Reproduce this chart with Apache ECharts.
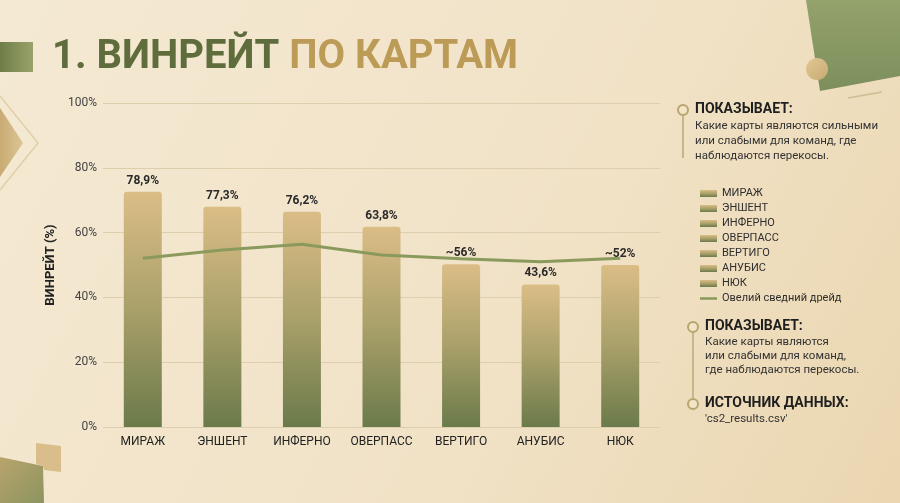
<!DOCTYPE html>
<html>
<head>
<meta charset="utf-8">
<script src="https://cdn.jsdelivr.net/npm/echarts@6/dist/echarts.min.js"></script>
<style>
  html, body { margin: 0; padding: 0; background: #f3e7cf; }
  #chart { width: 900px; height: 503px; }
</style>
</head>
<body>
<div id="chart"></div>
<script>
// карты и значения
let maps = ['МИРАЖ', 'ЭНШЕНТ', 'ИНФЕРНО', 'ОВЕРПАСС', 'ВЕРТИГО', 'АНУБИС', 'НЮК'];
// высота столбиков (как нарисовано)
let barValues = [72.6, 68.0, 66.4, 61.8, 50.2, 44.0, 50.0];
// подписи над столбиками
let barLabels = ['78,9%', '77,3%', '76,2%', '63,8%', '~56%', '43,6%', '~52%'];
// линия тренда
let trendName = 'Овелий сведний дрейд';
let trendValues = [52.1, 54.6, 56.4, 53.1, 51.9, 51.0, 52.1];
let yTicks = [0, 20, 40, 60, 80, 100];

let font = 'Roboto, "Noto Sans", sans-serif';

function barGradient() {
      return new echarts.graphic.LinearGradient(0, 0, 0, 1, [
            { offset: 0, color: '#dbbd86' },
            { offset: 0.5, color: '#a9a06a' },
            { offset: 1, color: '#6b7a4a' }
      ]);
}

// каждая карта - отдельная серия, чтобы попасть в легенду
let series = [];
for (let i = 0; i < maps.length; i++) {
      let data = maps.map(function (m, j) {
            return j == i ? barValues[i] : '-';
      });
      series.push({
            name: maps[i],
            type: 'bar',
            stack: 'maps',
            barWidth: 38,
            data: data,
            itemStyle: {
                  color: barGradient(),
                  borderRadius: [3, 3, 0, 0]
            },
            label: {
                  show: true,
                  position: 'top',
                  distance: 5,
                  fontFamily: font,
                  fontWeight: 'bold',
                  fontSize: 12,
                  color: '#2a2a2a',
                  formatter: function () {
                        return barLabels[i];
                  }
            },
            z: 2
      });
}

series.push({
      name: trendName,
      type: 'line',
      data: trendValues,
      symbol: 'none',
      lineStyle: { color: '#8a9a5c', width: 3 },
      itemStyle: { color: '#8a9a5c' },
      z: 5
});

let legendData = maps.map(function (m) {
      return { name: m, icon: 'rect' };
});
// у линии в легенде только полоска, без точки
legendData.push({ name: trendName, icon: 'path://M0,0H20V3H0Z' });

let chart = echarts.init(document.getElementById('chart'));

let option = {
      backgroundColor: '#f3e7cf',
      animation: false,
      grid: { left: 103, right: 240, top: 103, bottom: 76 },
      legend: {
            orient: 'vertical',
            left: 695,
            top: 182,
            itemWidth: 17,
            itemHeight: 7,
            itemGap: 2,
            data: legendData,
            textStyle: {
                  fontFamily: font,
                  fontSize: 11,
                  color: '#2e2e2e',
                  lineHeight: 13
            }
      },
      xAxis: {
            type: 'category',
            data: maps,
            axisLine: { show: false },
            axisTick: { show: false },
            axisLabel: {
                  fontFamily: font,
                  fontSize: 12,
                  color: '#222',
                  margin: 9,
                  interval: 0
            }
      },
      yAxis: {
            type: 'value',
            min: 0,
            max: 100,
            interval: 20,
            name: 'ВИНРЕЙТ (%)',
            nameLocation: 'middle',
            nameGap: 44,
            nameTextStyle: {
                  fontFamily: font,
                  fontWeight: 'bold',
                  fontSize: 13,
                  color: '#222'
            },
            axisLabel: {
                  fontFamily: font,
                  fontSize: 12,
                  color: '#444',
                  margin: 6,
                  formatter: function (v) {
                        return yTicks.indexOf(v) >= 0 ? v + '%' : '';
                  }
            },
            splitLine: { lineStyle: { color: '#ddcfae', width: 1 } }
      },
      graphic: [
            // фон
            {
                  type: 'rect', z: -10, silent: true,
                  shape: { x: 0, y: 0, width: 900, height: 503 },
                  style: {
                        fill: new echarts.graphic.LinearGradient(0, 0, 1, 1, [
                              { offset: 0, color: '#f4e9d3' },
                              { offset: 0.6, color: '#f1e2c6' },
                              { offset: 1, color: '#ead6b0' }
                        ])
                  }
            },
            // угол справа сверху
            {
                  type: 'polygon', z: -5, silent: true,
                  shape: { points: [[806, 0], [900, 0], [900, 76], [820, 91]] },
                  style: {
                        fill: new echarts.graphic.LinearGradient(0, 0, 0, 1, [
                              { offset: 0, color: '#94a26c' },
                              { offset: 1, color: '#7c8f5c' }
                        ])
                  }
            },
            {
                  type: 'circle', z: -4, silent: true,
                  shape: { cx: 817, cy: 69, r: 11 },
                  style: {
                        fill: new echarts.graphic.LinearGradient(0, 0, 1, 1, [
                              { offset: 0, color: '#e2c896' },
                              { offset: 1, color: '#c8aa72' }
                        ])
                  }
            },
            {
                  type: 'line', z: -4, silent: true,
                  shape: { x1: 848, y1: 98, x2: 882, y2: 92 },
                  style: { stroke: '#cdbb94', lineWidth: 1.5 }
            },
            // треугольник слева
            {
                  type: 'polyline', z: -5, silent: true,
                  shape: { points: [[0, 96], [38, 143], [0, 190]] },
                  style: { stroke: '#e0cfa8', lineWidth: 1.5, fill: null }
            },
            {
                  type: 'polygon', z: -5, silent: true,
                  shape: { points: [[0, 108], [23, 143], [0, 177]] },
                  style: {
                        fill: new echarts.graphic.LinearGradient(0, 0, 1, 0, [
                              { offset: 0, color: '#c9ab72' },
                              { offset: 1, color: '#dcc597' }
                        ])
                  }
            },
            // угол слева снизу
            {
                  type: 'polygon', z: -5, silent: true,
                  shape: { points: [[0, 457], [43, 466], [44, 503], [0, 503]] },
                  style: {
                        fill: new echarts.graphic.LinearGradient(0, 0, 1, 1, [
                              { offset: 0, color: '#b9a46c' },
                              { offset: 1, color: '#8c9460' }
                        ])
                  }
            },
            {
                  type: 'polygon', z: -5, silent: true,
                  shape: { points: [[36, 443], [61, 446], [61, 472], [44, 470], [43, 466], [36, 464]] },
                  style: { fill: '#d9bd8a' }
            },
            // заголовок
            {
                  type: 'rect', silent: true,
                  shape: { x: 0, y: 42, width: 33, height: 30 },
                  style: {
                        fill: new echarts.graphic.LinearGradient(0, 0, 1, 0, [
                              { offset: 0, color: '#6e7d48' },
                              { offset: 1, color: '#9aa26a' }
                        ])
                  }
            },
            {
                  type: 'text', left: 52, top: 38, silent: true,
                  style: {
                        text: '{a|1. ВИНРЕЙТ }{b|ПО КАРТАМ}',
                        rich: {
                              a: { fontFamily: font, fontWeight: 'bold', fontSize: 40, fill: '#5f6d3c' },
                              b: { fontFamily: font, fontWeight: 'bold', fontSize: 40, fill: '#bb9b56' }
                        }
                  }
            },
            // блок 1 справа
            {
                  type: 'circle', silent: true,
                  shape: { cx: 683, cy: 110, r: 5 },
                  style: { fill: '#f1e4c8', stroke: '#b8a46c', lineWidth: 2 }
            },
            {
                  type: 'line', silent: true,
                  shape: { x1: 683, y1: 116, x2: 683, y2: 158 },
                  style: { stroke: '#b8a878', lineWidth: 1.5 }
            },
            {
                  type: 'text', left: 695, top: 102, silent: true,
                  style: { text: 'ПОКАЗЫВАЕТ:', fontFamily: font, fontWeight: 'bold', fontSize: 14, fill: '#1f1f1f' }
            },
            {
                  type: 'text', left: 695, top: 119, silent: true,
                  style: {
                        text: 'Какие карты являются сильными\nили слабыми для команд, где\nнаблюдаются перекосы.',
                        fontFamily: font, fontSize: 11.5, lineHeight: 15, fill: '#333'
                  }
            },
            // блок 2 справа
            {
                  type: 'circle', silent: true,
                  shape: { cx: 693, cy: 327, r: 5 },
                  style: { fill: '#f1e4c8', stroke: '#b8a46c', lineWidth: 2 }
            },
            {
                  type: 'line', silent: true,
                  shape: { x1: 693, y1: 333, x2: 693, y2: 398 },
                  style: { stroke: '#b8a878', lineWidth: 1.5 }
            },
            {
                  type: 'circle', silent: true,
                  shape: { cx: 693, cy: 404, r: 5 },
                  style: { fill: '#f1e4c8', stroke: '#b8a46c', lineWidth: 2 }
            },
            {
                  type: 'text', left: 705, top: 319, silent: true,
                  style: { text: 'ПОКАЗЫВАЕТ:', fontFamily: font, fontWeight: 'bold', fontSize: 14, fill: '#1f1f1f' }
            },
            {
                  type: 'text', left: 705, top: 335, silent: true,
                  style: {
                        text: 'Какие карты являются\nили слабыми для команд,\nгде наблюдаются перекосы.',
                        fontFamily: font, fontSize: 11.5, lineHeight: 14, fill: '#333'
                  }
            },
            {
                  type: 'text', left: 705, top: 396, silent: true,
                  style: { text: 'ИСТОЧНИК ДАННЫХ:', fontFamily: font, fontWeight: 'bold', fontSize: 14, fill: '#1f1f1f' }
            },
            {
                  type: 'text', left: 705, top: 413, silent: true,
                  style: { text: "'cs2_results.csv'", fontFamily: font, fontSize: 11.5, fill: '#333' }
            }
      ],
      series: series
};

chart.setOption(option);
</script>
</body>
</html>
